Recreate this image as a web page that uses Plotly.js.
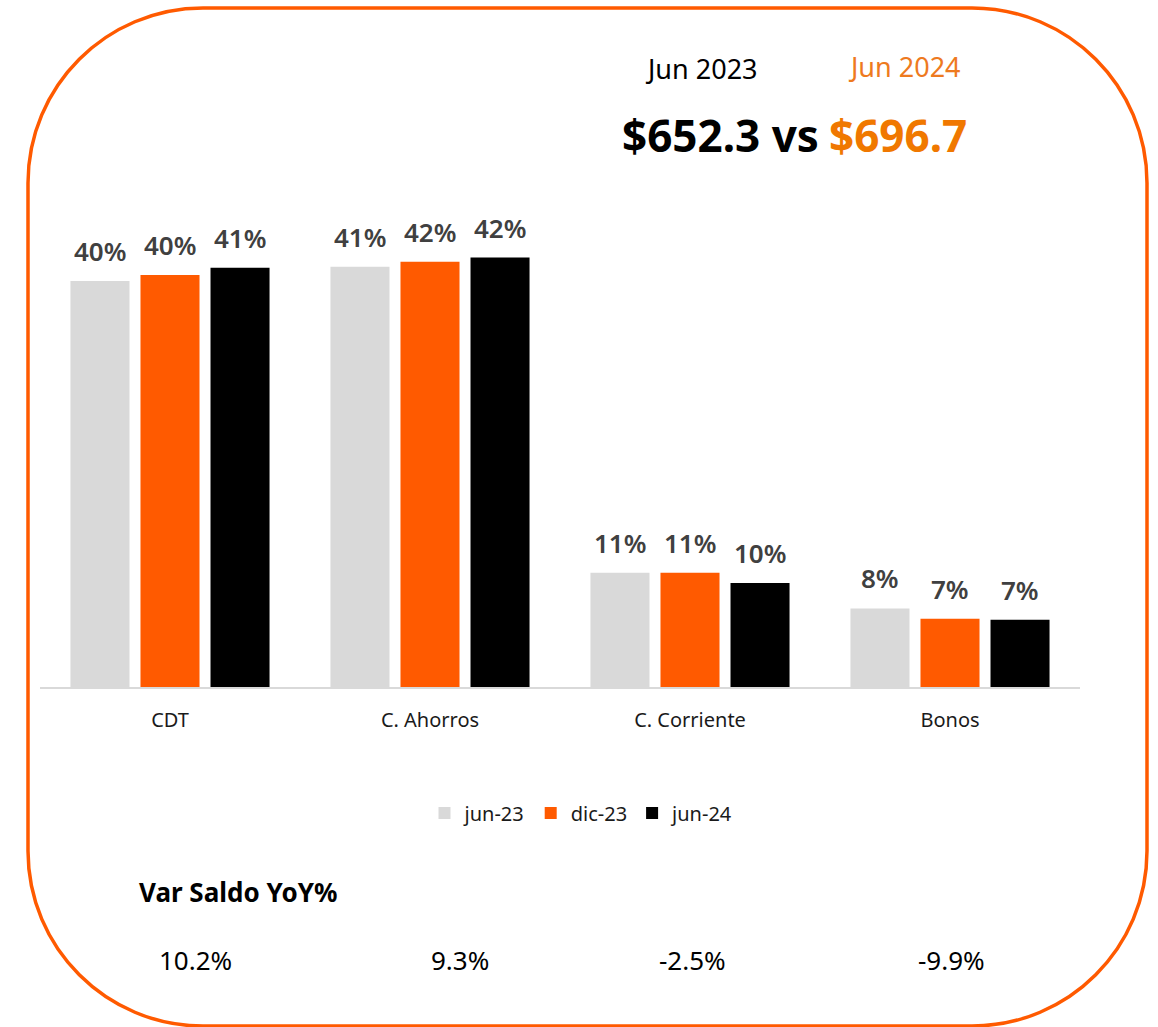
<!DOCTYPE html>
<html>
<head>
<meta charset="utf-8">
<script src="https://cdn.plot.ly/plotly-3.0.1.min.js"></script>
<style>html,body{margin:0;padding:0;background:#fff;}#chart{width:1158px;height:1027px;}</style>
</head>
<body>
<div id="chart"></div>
<script>
// ---- data ----
const categories = ['CDT', 'C. Ahorros', 'C. Corriente', 'Bonos'];
const seriesNames = ['jun-23', 'dic-23', 'jun-24'];
const jun23 = [39.8, 41.2, 11.2, 7.7];
const dic23 = [40.4, 41.7, 11.2, 6.7];
const jun24 = [41.1, 42.1, 10.2, 6.6];
const yoyLabels = ['10.2%', '9.3%', '-2.5%', '-9.9%'];
const yoyTitle = 'Var Saldo YoY%';
const periodA = 'Jun 2023', periodB = 'Jun 2024';
const totalA = '$652.3 vs', totalB = '$696.7';

// ---- layout geometry ----
const W = 1158, H = 1027, ML = 40, MR = 78, MT = 177, MB = 340;
const PW = W - ML - MR, PH = H - MT - MB;
const px = x => (x - ML) / PW;
const py = y => (MT + PH - y) / PH;
const FONT = '"Noto Sans", "Open Sans", sans-serif';
const colors = ['#D9D9D9', '#FF5A00', '#000000'];
const seriesData = [jun23, dic23, jun24];

const traces = seriesData.map((vals, i) => ({
  type: 'bar', name: seriesNames[i], x: categories, y: vals,
  marker: {color: colors[i]}, hoverinfo: 'skip'
}));

const annotations = [];
seriesData.forEach((vals, i) => {
  vals.forEach((v, j) => {
    annotations.push({
      x: categories[j], y: v, xref: 'x', yref: 'y', xshift: (i - 1) * 70, yshift: 10,
      yanchor: 'bottom', xanchor: 'center', showarrow: false,
      text: Math.round(v) + '%',
      font: {family: FONT, size: 26, color: '#404040', weight: 600}
    });
  });
});

const yoyX = [195, 460, 692, 951];
yoyLabels.forEach((t, j) => annotations.push({
  x: px(yoyX[j]), y: py(960), xref: 'paper', yref: 'paper', xanchor: 'center', yanchor: 'middle',
  showarrow: false, text: t, font: {family: FONT, size: 26, color: '#000'}
}));
annotations.push({x: px(137), y: py(892), xref: 'paper', yref: 'paper', xanchor: 'left', yanchor: 'middle',
  showarrow: false, text: yoyTitle, font: {family: FONT, size: 26, color: '#000', weight: 700}});
annotations.push({x: px(701), y: py(68), xref: 'paper', yref: 'paper', xanchor: 'center', yanchor: 'middle',
  showarrow: false, text: periodA, font: {family: FONT, size: 27, color: '#000'}});
annotations.push({x: px(904), y: py(66), xref: 'paper', yref: 'paper', xanchor: 'center', yanchor: 'middle',
  showarrow: false, text: periodB, font: {family: FONT, size: 27, color: '#EE7A1E'}});
annotations.push({x: px(821), y: py(135), xref: 'paper', yref: 'paper', xanchor: 'right', yanchor: 'middle',
  showarrow: false, text: totalA, font: {family: FONT, size: 44, color: '#000', weight: 700}});
annotations.push({x: px(827), y: py(135), xref: 'paper', yref: 'paper', xanchor: 'left', yanchor: 'middle',
  showarrow: false, text: totalB, font: {family: FONT, size: 44, color: '#F07800', weight: 700}});

// rounded border
const R = 175, k = 0.5523 * R, X0 = 28, X1 = 1147, Y0 = 8, Y1 = 1026;
const P = (x, y) => px(x).toFixed(5) + ',' + py(y).toFixed(5);
const path = 'M' + P(X0 + R, Y0) + ' L' + P(X1 - R, Y0) +
  ' C' + P(X1 - R + k, Y0) + ' ' + P(X1, Y0 + R - k) + ' ' + P(X1, Y0 + R) +
  ' L' + P(X1, Y1 - R) +
  ' C' + P(X1, Y1 - R + k) + ' ' + P(X1 - R + k, Y1) + ' ' + P(X1 - R, Y1) +
  ' L' + P(X0 + R, Y1) +
  ' C' + P(X0 + R - k, Y1) + ' ' + P(X0, Y1 - R + k) + ' ' + P(X0, Y1 - R) +
  ' L' + P(X0, Y0 + R) +
  ' C' + P(X0, Y0 + R - k) + ' ' + P(X0 + R - k, Y0) + ' ' + P(X0 + R, Y0) + ' Z';

const layout = {
  width: W, height: H,
  margin: {l: ML, r: MR, t: MT, b: MB},
  paper_bgcolor: '#fff', plot_bgcolor: '#fff',
  barmode: 'group', bargap: 0.192, bargroupgap: 0.157,
  font: {family: FONT},
  xaxis: {
    type: 'category', showline: true, linecolor: '#D9D9D9', linewidth: 2,
    ticks: 'outside', ticklen: 14, tickcolor: 'rgba(0,0,0,0)',
    tickfont: {family: FONT, size: 20, color: '#1a1a1a'}, showgrid: false, zeroline: false, fixedrange: true
  },
  yaxis: {range: [0, 50], showgrid: false, zeroline: false, showticklabels: false, showline: false, fixedrange: true},
  showlegend: true,
  legend: {
    orientation: 'h', x: px(582), xanchor: 'center', y: py(813), yanchor: 'middle',
    font: {family: FONT, size: 20, color: '#1a1a1a'}, traceorder: 'normal'
  },
  annotations: annotations,
  shapes: [{type: 'path', xref: 'paper', yref: 'paper', path: path, line: {color: '#FF5A00', width: 3.5}, layer: 'below'}]
};

Plotly.newPlot('chart', traces, layout, {displayModeBar: false, staticPlot: true});
</script>
</body>
</html>
